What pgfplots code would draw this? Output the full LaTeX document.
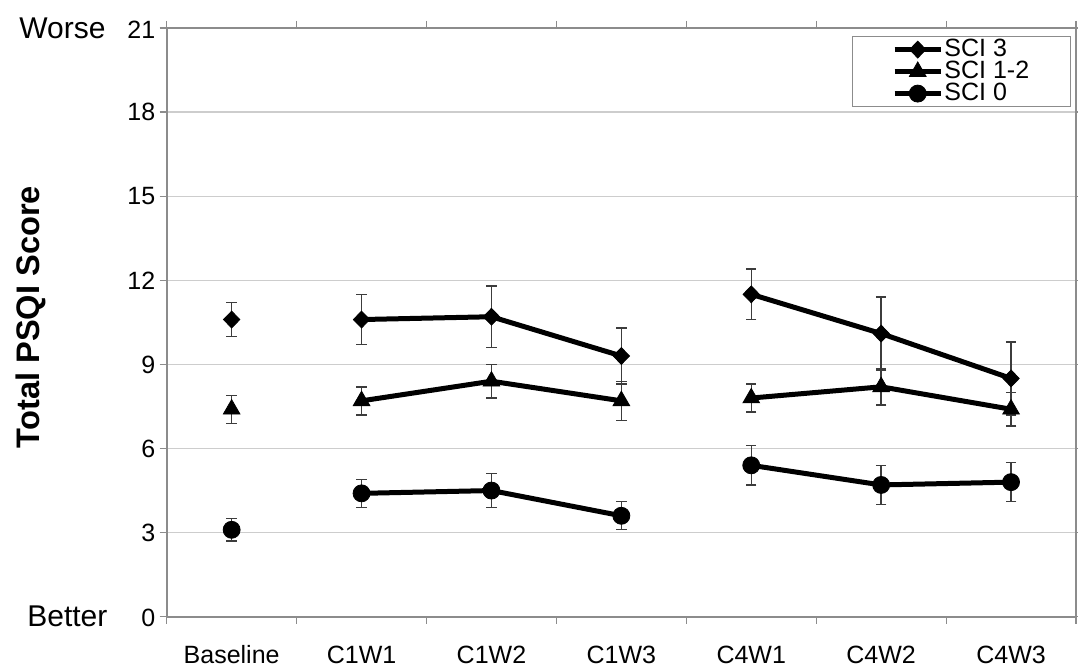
\documentclass[border=0pt]{standalone}
\usepackage{fontspec}
\setmainfont{Liberation Sans}
\usepackage{pgfplots}
\pgfplotsset{compat=1.18}
\definecolor{axgray}{RGB}{140,140,140}
\definecolor{gridgray}{RGB}{205,205,205}
\definecolor{errgray}{RGB}{60,60,60}
\newcommand{\bigword}[1]{{\fontsize{15bp}{17bp}\selectfont #1}}
\begin{document}
\begin{tikzpicture}
\useasboundingbox (0,0) rectangle (539bp,334bp);
\begin{axis}[
  at={(83.35bp,25.65bp)}, anchor=south west,
  scale only axis, width=454.65bp, height=294.35bp,
  xmin=-0.5, xmax=6.5, ymin=0, ymax=21,
  font=\fontsize{12.5bp}{14bp}\selectfont,
  xtick={-0.5,0.5,1.5,2.5,3.5,4.5,5.5,6.5},
  xticklabels={},
  extra x ticks={0,1,2,3,4,5,6},
  extra x tick labels={Baseline,C1W1,C1W2,C1W3,C4W1,C4W2,C4W3},
  extra x tick style={major tick length=0pt, xticklabel style={inner sep=0pt, anchor=north, text height=9bp, text depth=2.5bp, yshift=-14bp}},
  ytick={0,3,6,9,12,15,18,21},
  yticklabels={\bigword{Better}\hspace{17bp}0,3,6,9,12,15,18,\bigword{Worse}\hspace{11bp}21},
  yticklabel style={inner sep=0pt, anchor=east, xshift=-2bp},
  tick align=outside, major tick length=3.5bp,
  tick style={axgray, line width=0.6bp},
  axis line style={axgray, line width=0.8bp},
  ymajorgrids, grid style={gridgray, line width=0.6bp},
  ylabel={Total PSQI Score},
  ylabel style={font=\fontsize{16.3bp}{18bp}\selectfont\bfseries, at={(axis description cs:-0.1496,0.509)}, anchor=center},
  error bars/error bar style={errgray, line width=0.7bp},
  error bars/error mark options={rotate=90, mark size=2.6bp, errgray, line width=0.7bp},
  legend image code/.code={\draw[mark repeat=2,mark phase=2] plot coordinates {(0bp,0bp)(11.5bp,0bp)(23bp,0bp)};},
  legend style={at={(axis description cs:1,1)}, anchor=north east, xshift=-2.5bp, yshift=-4bp,
    draw=axgray, line width=0.6bp, inner xsep=20bp, inner ysep=1bp, row sep=0pt,
    font=\fontsize{12.5bp}{13bp}\selectfont,
    nodes={inner sep=0.6bp, text height=8.6bp, text depth=1.2bp}},
  legend cell align=left,
  dmd/.style={black, line width=2.5bp, mark=diamond*, mark size=4.2bp, mark options={solid, fill=black, line width=0.4bp, xscale=1.3}},
  tri/.style={black, line width=2.5bp, mark=triangle*, mark size=4.8bp, mark options={solid, fill=black, line width=0.4bp}},
  cir/.style={black, line width=2.5bp, mark=*, mark size=4.25bp, mark options={solid, fill=black, line width=0.4bp}},
]
% SCI 3
\addplot[dmd, error bars/.cd, y dir=both, y explicit]
  coordinates {(1,10.6) +- (0,0.9) (2,10.7) +- (0,1.1) (3,9.3) +- (0,1.0)};
\addlegendentry{SCI 3}
% SCI 1-2
\addplot[tri, error bars/.cd, y dir=both, y explicit]
  coordinates {(1,7.7) +- (0,0.5) (2,8.4) +- (0,0.6) (3,7.7) +- (0,0.7)};
\addlegendentry{SCI 1-2}
% SCI 0
\addplot[cir, error bars/.cd, y dir=both, y explicit]
  coordinates {(1,4.4) +- (0,0.5) (2,4.5) +- (0,0.6) (3,3.6) +- (0,0.5)};
\addlegendentry{SCI 0}

% Baseline and C4
\addplot[dmd, forget plot, only marks, error bars/.cd, y dir=both, y explicit]
  coordinates {(0,10.6) +- (0,0.6)};
\addplot[dmd, forget plot, error bars/.cd, y dir=both, y explicit]
  coordinates {(4,11.5) +- (0,0.9) (5,10.1) +- (0,1.3) (6,8.5) +- (0,1.3)};
\addplot[tri, forget plot, only marks, error bars/.cd, y dir=both, y explicit]
  coordinates {(0,7.4) +- (0,0.5)};
\addplot[tri, forget plot, error bars/.cd, y dir=both, y explicit]
  coordinates {(4,7.8) +- (0,0.5) (5,8.2) +- (0,0.65) (6,7.4) +- (0,0.6)};
\addplot[cir, forget plot, only marks, error bars/.cd, y dir=both, y explicit]
  coordinates {(0,3.1) +- (0,0.4)};
\addplot[cir, forget plot, error bars/.cd, y dir=both, y explicit]
  coordinates {(4,5.4) +- (0,0.7) (5,4.7) +- (0,0.7) (6,4.8) +- (0,0.7)};
\end{axis}
\end{tikzpicture}
\end{document}
